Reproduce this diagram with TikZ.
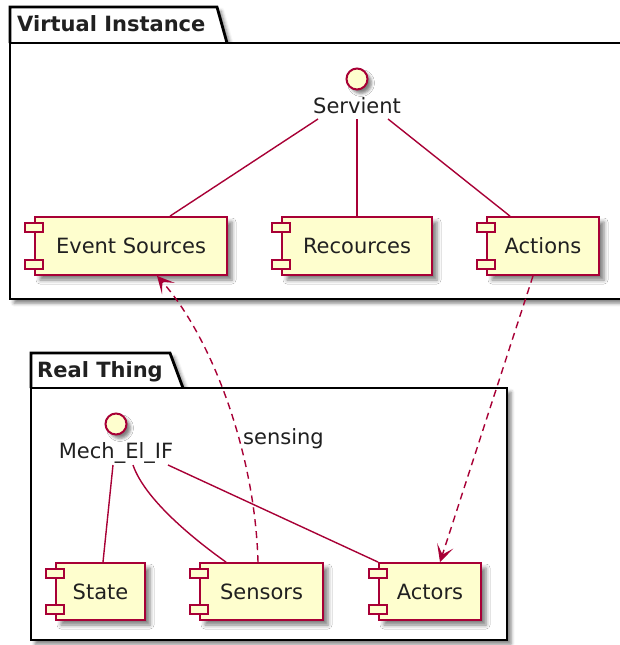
\documentclass[tikz,border=0pt]{standalone}
\usepackage{fontspec}
\setmainfont{DejaVu Sans}
\usetikzlibrary{arrows.meta,shadows.blur}
\definecolor{umlred}{HTML}{A80036}
\definecolor{umlfill}{HTML}{FEFECE}
\definecolor{umltext}{HTML}{202020}
\begin{document}
\begin{tikzpicture}[x=1pt,y=-1pt,
  txt/.style={font=\fontsize{21}{25}\selectfont, text=umltext, inner sep=0pt, text height=15.3pt, text depth=0pt},
  pkgtitle/.style={font=\bfseries\fontsize{21}{25}\selectfont, text=umltext, inner sep=0pt, anchor=base west},
  pkgbody/.style={fill=white, blur shadow={shadow xshift=4pt, shadow yshift=-4pt, shadow blur radius=3.5pt, shadow opacity=50}},
  pkgline/.style={draw=black, line width=2.8pt, line join=miter},
  comp/.style={txt, draw=umlred, fill=umlfill, line width=1.8pt,
    blur shadow={shadow xshift=5pt, shadow yshift=-5pt, shadow blur radius=4pt, shadow opacity=50}},
  plug/.style={draw=umlred, fill=umlfill, line width=1.6pt},
  iface/.style={circle, draw=umlred, fill=umlfill, line width=2pt, minimum size=21pt, inner sep=0pt,
    blur shadow={shadow xshift=4pt, shadow yshift=-4pt, shadow blur radius=3pt, shadow opacity=50}},
  link/.style={draw=umlred, line width=1.4pt},
  dep/.style={link, dash pattern=on 7pt off 5pt, -{Stealth[length=17pt,width=17pt,inset=9pt]}}
]
\useasboundingbox (0,0) rectangle (619,645);

% package "Virtual Instance"
\path[pkgbody] (10,7) -- (217,7) -- (227,43) -- (625,43) -- (625,299) -- (10,299) -- cycle;
\draw[pkgline] (10,43) -- (10,7) -- (217,7) -- (227,43);
\draw[pkgline] (10,43) rectangle (625,299);
\node[pkgtitle] (vititle) at (17,31) {Virtual Instance};

% package "Real Thing"
\path[pkgbody] (31,353) -- (170,353) -- (183,388) -- (507,388) -- (507,640) -- (31,640) -- cycle;
\draw[pkgline] (31,388) -- (31,353) -- (170,353) -- (183,388);
\draw[pkgline] (31,388) rectangle (507,640);
\node[pkgtitle] (rttitle) at (37,377) {Real Thing};

% interfaces
\node[iface] (servc) at (357,79) {};
\node[txt] (serv) at (357,106) {Servient};
\node[iface] (mechc) at (116,424) {};
\node[txt] (mech) at (116,451) {Mech\_El\_IF};

% components
\node[comp, minimum width=192pt, minimum height=58pt] (es)   at (131,246)   {Event Sources};
\node[comp, minimum width=150pt, minimum height=58pt] (rec)  at (357,246)   {Recources};
\node[comp, minimum width=112pt, minimum height=58pt] (act)  at (543,246)   {Actions};
\node[comp, minimum width=89pt,  minimum height=57pt] (st)   at (100.5,591.5) {State};
\node[comp, minimum width=123pt, minimum height=57pt] (sen)  at (261.5,591.5) {Sensors};
\node[comp, minimum width=102pt, minimum height=57pt] (actr) at (430,591.5) {Actors};

% component plugs
\foreach \c in {es,rec,act,st,sen,actr}{
  \draw[plug] ([shift={(-9,7)}]\c.north west) rectangle ++(18,9);
  \draw[plug] ([shift={(-9,-16)}]\c.south west) rectangle ++(18,9);
}

% links of the virtual instance
\draw[link] ([shift={(-39,13)}]serv.center) -- ([xshift=39pt]es.north);
\draw[link] ([shift={(0,13)}]serv.center) -- (rec.north);
\draw[link] ([shift={(31,13)}]serv.center) -- ([xshift=-33pt]act.north);

% links of the real thing
\draw[link] ([shift={(-3,14)}]mech.center) -- ([xshift=2.5pt]st.north);
\draw[link] ([shift={(17,14)}]mech.center) .. controls (145,500) and (195,540) .. ([xshift=-35.5pt]sen.north);
\draw[link] ([shift={(52,14)}]mech.center) -- (actr.north west);

% dependencies between both
\draw[dep] ([xshift=-3.5pt]sen.north) .. controls (255,450) and (210,335) .. ([xshift=26pt]es.south);
\node[txt, anchor=west] (sensing) at (243,437) {sensing};
\draw[dep] ([xshift=-10pt]act.south) -- ([xshift=10pt]actr.north);
\end{tikzpicture}
\end{document}
